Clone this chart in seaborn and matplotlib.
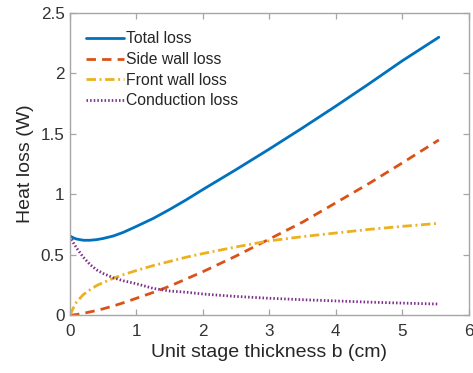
import matplotlib
matplotlib.use("Agg")
import matplotlib.pyplot as plt
import seaborn as sns
import pandas as pd

# Unit stage thickness b (cm)
thickness = [0, 0.05, 0.1, 0.2, 0.3, 0.4, 0.5, 0.65, 0.8, 1.0, 1.25, 1.5,
             1.75, 2.0, 2.5, 3.0, 3.5, 4.0, 4.5, 5.0, 5.55]

# Heat loss components (W)
total_loss = [0.655, 0.64, 0.63, 0.62, 0.62, 0.625, 0.635, 0.655, 0.685, 0.735,
              0.80, 0.875, 0.955, 1.04, 1.205, 1.375, 1.55, 1.73, 1.915, 2.105, 2.30]
side_wall_loss = [0.0, 0.002, 0.006, 0.015, 0.027, 0.039, 0.053, 0.076, 0.102, 0.14,
                  0.188, 0.24, 0.30, 0.36, 0.49, 0.63, 0.77, 0.93, 1.09, 1.26, 1.45]
front_wall_loss = [0.0, 0.06, 0.11, 0.17, 0.21, 0.245, 0.27, 0.305, 0.335, 0.37,
                   0.41, 0.445, 0.48, 0.51, 0.565, 0.615, 0.65, 0.68, 0.71, 0.735, 0.76]
conduction_loss = [0.655, 0.60, 0.555, 0.48, 0.42, 0.375, 0.345, 0.31, 0.285, 0.26,
                   0.222, 0.20, 0.19, 0.175, 0.155, 0.14, 0.128, 0.118, 0.108, 0.10, 0.092]

series_names = ["Total loss", "Side wall loss", "Front wall loss", "Conduction loss"]
series_values = [total_loss, side_wall_loss, front_wall_loss, conduction_loss]

x_ticks = [0, 1, 2, 3, 4, 5, 6]
y_ticks = [0, 0.5, 1, 1.5, 2, 2.5]
y_tick_labels = ["0", "0.5", "1", "1.5", "2", "2.5"]

frames = [pd.DataFrame({"b": thickness, "loss": vals, "series": name})
          for name, vals in zip(series_names, series_values)]
df = pd.concat(frames, ignore_index=True)

sns.set_style("white")
plt.rcParams["font.family"] = ["Liberation Sans", "DejaVu Sans"]

palette = {"Total loss": "#0072BD", "Side wall loss": "#D95319",
           "Front wall loss": "#EDB120", "Conduction loss": "#7E2F8E"}
dashes = {"Total loss": "", "Side wall loss": (3.4, 2.2),
          "Front wall loss": (3.4, 1.3, 0.7, 1.3), "Conduction loss": (0.55, 0.75)}

fig = plt.figure(figsize=(4.73, 3.73), dpi=100)
ax = fig.add_axes([0.148, 0.155, 0.843, 0.81])

sns.lineplot(data=df, x="b", y="loss", hue="series", style="series",
             hue_order=series_names, style_order=series_names,
             palette=palette, dashes=dashes, linewidth=2.0,
             estimator=None, sort=False, ax=ax)

ax.set_xlim(0, 6)
ax.set_ylim(0, 2.5)
ax.set_xticks(x_ticks)
ax.set_xticklabels([str(t) for t in x_ticks])
ax.set_yticks(y_ticks)
ax.set_yticklabels(y_tick_labels)
ax.set_xlabel("Unit stage thickness b (cm)", fontsize=14, color="#262626", labelpad=4)
ax.set_ylabel("Heat loss (W)", fontsize=14, color="#262626", labelpad=5)

for s in ax.spines.values():
    s.set_visible(True)
    s.set_color("#a6a6a6")
    s.set_linewidth(1.0)
ax.tick_params(axis="both", direction="in", length=4, width=0.9, color="#a6a6a6",
               labelsize=12.3, labelcolor="#333333", top=True, right=True,
               bottom=True, left=True)
ax.tick_params(axis="x", pad=6)
ax.tick_params(axis="y", pad=4)

handles, labels = ax.get_legend_handles_labels()
leg = ax.legend(handles, labels, loc="upper left", frameon=False, fontsize=11.3,
                handlelength=2.4, handletextpad=0.15, labelspacing=0.36,
                borderaxespad=0.0, bbox_to_anchor=(0.025, 0.96))

fig.savefig("out.png", dpi=100)
